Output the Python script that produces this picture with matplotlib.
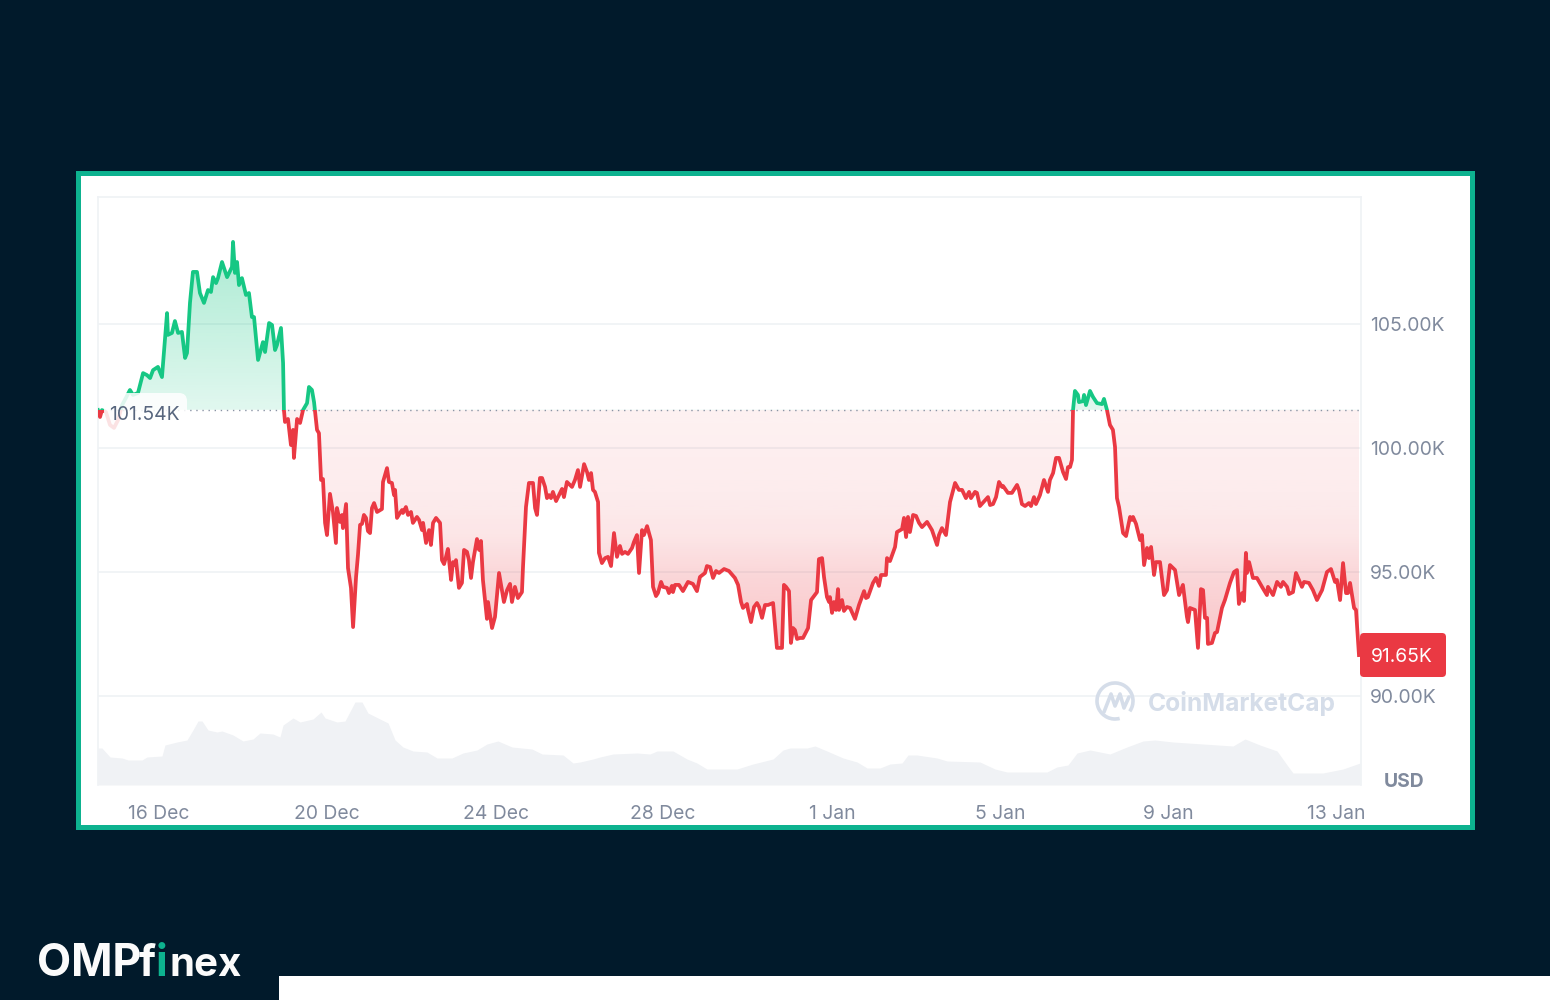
import numpy as np
import matplotlib
matplotlib.use("Agg")
import matplotlib.pyplot as plt
from matplotlib.patches import Rectangle, FancyBboxPatch, PathPatch, Arc

plt.rcParams['font.family'] = ['Inter', 'DejaVu Sans']

# hours since 16 Dec 00:00
hours = [-34.9,-33.7,-32.6,-30.3,-28.0,-25.7,-23.4,-21.1,-18.9,-16.6,-14.9,-12.0,-9.1,-6.9,-5.1,-3.4,-0.6,1.7,4.6,5.1,
7.4,9.1,10.9,13.1,14.9,16.0,17.7,19.4,21.7,23.4,25.7,28.0,29.7,30.9,32.6,33.7,36.0,38.9,41.7,42.3,
43.4,44.6,45.7,47.4,49.7,51.4,53.1,54.3,56.6,59.4,60.6,62.9,64.6,66.3,67.4,69.7,70.9,71.4,72.0,73.7,
75.4,76.6,77.1,78.9,80.6,82.3,84.6,85.7,87.4,88.6,90.3,91.4,92.6,93.7,94.9,96.0,97.7,99.4,101.1,101.7,
103.4,104.6,105.1,106.9,108.0,109.7,110.9,112.6,113.7,114.9,116.0,117.1,118.3,119.4,120.6,121.7,122.9,124.6,127.4,128.0,
130.3,131.4,133.1,134.3,134.9,136.0,137.7,138.9,139.4,141.1,142.3,144.0,145.1,147.4,148.6,150.3,150.9,152.6,154.3,155.4,
156.6,158.3,160.6,161.7,162.9,164.0,165.1,166.9,168.0,169.1,169.7,171.4,173.1,174.3,176.0,177.1,178.3,179.4,181.7,182.9,
184.0,185.1,187.4,188.0,190.3,192.0,194.3,196.6,197.1,198.9,200.6,201.7,203.4,205.1,207.4,208.0,209.7,211.4,213.7,214.9,
216.0,217.7,218.9,220.6,221.7,222.9,224.0,225.1,226.9,228.0,230.3,231.4,233.1,236.0,237.7,239.4,240.6,242.9,244.6,245.7,
246.9,248.0,249.1,250.9,251.4,253.1,254.9,256.6,258.3,260.0,261.7,263.4,264.6,266.3,268.0,270.3,271.4,273.1,274.3,276.0,
277.1,278.9,281.1,282.3,284.0,285.1,286.9,288.0,290.3,291.4,293.1,293.7,294.9,297.1,299.4,302.3,305.1,307.4,309.1,312.0,
313.1,314.9,316.6,318.3,320.0,322.9,325.7,329.1,330.9,332.6,333.7,336.0,336.6,338.3,340.0,341.7,342.9,344.6,346.3,348.0,
350.9,353.1,356.0,357.1,358.3,360.0,361.1,362.3,363.4,364.6,366.3,368.0,370.9,372.6,376.0,377.1,378.9,380.0,381.7,382.9,
383.4,384.6,385.7,386.9,388.0,388.6,390.3,391.4,393.1,394.9,397.7,400.0,402.9,404.0,405.1,408.0,409.7,411.4,412.6,415.4,
416.0,417.7,420.6,421.7,424.6,425.7,426.9,428.0,429.1,430.9,432.6,434.3,436.0,438.9,441.7,444.6,445.7,447.4,449.7,452.0,
454.9,457.1,458.9,461.1,462.9,464.0,466.3,467.4,469.1,473.7,474.9,476.6,478.3,480.0,481.7,482.3,485.1,487.4,490.3,491.4,
493.1,494.9,497.1,498.3,500.0,501.1,503.4,505.7,508.0,509.1,510.9,512.6,514.3,516.6,518.3,519.4,520.6,521.7,522.3,523.4,
525.1,525.7,528.0,528.6,529.7,532.0,533.7,536.0,538.9,540.0,541.7,543.4,545.1,546.3,547.4,548.6,550.9,552.6,554.9,556.0,
556.6,558.3,560.6,561.7,562.9,564.6,565.7,566.9,568.6,569.7,572.0,574.3,576.0,577.7,580.6,582.9,585.1,587.4,588.0,589.1,
592.0,593.7,595.4,596.6,597.7,598.9,599.4,601.7,603.4,604.6,607.4,609.1,612.0,614.3,616.0,617.1,618.9,620.0,621.1,621.7,
622.9,625.1,627.4,630.3,633.1,633.7,636.6,638.9,641.1,642.3,644.6,645.7,648.0,649.7,653.1,654.3,657.1,659.4,661.7,664.6,
667.4,669.7,672.0,673.1,674.9,676.6,678.3,679.4,680.6,682.9,684.0,685.7]

# BTC price, thousands of USD
price = [101.53,101.25,101.53,101.45,100.93,100.81,101.13,101.73,102.02,102.34,102.14,102.22,103.02,102.94,102.82,103.14,103.27,102.86,105.44,104.56,
104.64,105.12,104.64,104.68,103.63,103.83,105.85,107.10,107.10,106.25,105.85,106.37,106.29,106.89,106.65,106.85,107.50,106.89,107.30,108.31,
107.06,107.50,106.57,106.85,106.17,106.25,105.28,105.28,103.55,104.27,103.87,105.04,104.96,103.95,104.15,104.84,103.43,101.53,101.05,101.17,
100.12,100.73,99.60,101.17,101.01,101.53,101.81,102.46,102.34,101.85,100.73,100.60,98.71,98.75,96.98,96.49,98.15,97.42,96.17,97.58,
97.02,97.30,96.77,97.74,95.16,94.36,92.78,94.80,95.69,96.90,96.94,97.30,97.18,96.65,96.57,97.58,97.78,97.42,97.54,98.63,
99.19,98.63,98.59,98.10,98.31,97.18,97.38,97.50,97.38,97.62,97.30,97.42,96.98,97.22,97.10,96.69,96.98,96.17,96.69,96.09,
96.98,97.18,96.98,95.48,95.32,95.61,95.93,94.68,95.40,95.28,95.48,94.36,94.56,95.89,95.81,95.48,94.76,95.40,96.33,95.89,
96.25,94.68,93.11,93.79,92.74,93.19,94.96,93.99,93.79,94.27,94.52,93.79,94.40,93.95,94.19,95.20,97.62,98.59,98.59,97.58,
97.30,98.79,98.79,98.43,97.98,98.10,97.98,98.23,97.86,98.02,98.35,98.02,98.63,98.43,98.71,99.11,98.43,99.35,99.03,98.71,
98.99,98.31,98.23,97.82,95.77,95.36,95.56,95.61,95.24,96.57,95.61,96.05,95.73,95.81,95.73,95.97,96.21,96.49,94.96,96.69,
96.49,96.85,96.29,94.40,94.03,94.15,94.60,94.40,94.36,94.15,94.44,94.19,94.48,94.48,94.23,94.60,94.52,94.23,94.80,94.96,
95.24,95.20,94.76,95.04,94.96,95.12,95.04,94.76,94.48,93.79,93.55,93.71,93.47,92.98,93.59,93.75,93.59,93.15,93.67,93.67,
93.75,91.94,91.94,94.48,94.40,94.23,92.14,92.74,92.66,92.30,92.34,92.34,92.74,93.87,94.19,95.52,95.56,94.80,93.99,93.79,
93.99,93.35,93.79,93.47,94.31,93.47,93.87,93.43,93.59,93.55,93.11,93.67,94.23,93.95,93.99,94.56,94.76,94.44,94.88,94.88,
95.56,95.44,96.01,96.61,96.73,97.18,96.41,97.22,96.61,97.30,97.26,96.98,96.81,97.02,96.69,96.09,96.49,96.77,96.49,97.82,
98.59,98.31,98.31,97.98,98.23,97.98,98.23,98.19,97.66,98.02,97.70,97.74,98.02,98.63,98.43,98.47,98.19,98.19,98.51,98.31,
97.74,97.66,97.78,97.66,98.02,97.74,98.10,98.71,98.23,98.71,98.99,99.60,99.60,99.03,98.75,99.23,99.23,99.52,101.53,102.30,
102.14,101.85,101.89,102.14,101.73,102.30,102.06,101.81,101.77,101.98,101.53,100.93,100.73,100.04,97.98,97.62,96.57,96.45,97.22,97.10,
97.22,96.94,96.29,96.49,95.28,95.97,95.56,96.01,94.88,95.40,95.40,94.07,94.27,95.28,95.08,94.07,94.48,93.19,92.98,93.55,
93.47,91.94,94.31,94.27,93.15,93.15,92.10,92.14,92.54,92.58,93.55,93.87,94.56,95.00,95.08,93.71,94.15,93.83,95.77,94.96,
95.40,94.76,94.76,94.40,94.07,94.40,94.07,94.60,94.40,94.60,94.40,94.11,94.19,94.96,94.40,94.60,94.56,94.27,93.87,94.27,
95.00,95.12,94.60,94.68,93.87,95.36,94.15,94.15,94.56,93.55,93.47,91.65]

vol_hours = [-34.9,-32.6,-28.0,-21.1,-17.7,-9.7,-6.9,1.7,3.4,10.3,16.0,19.4,22.3,24.6,28.0,33.1,36.0,42.3,48.0,53.7,
57.7,65.1,69.1,70.9,76.6,80.6,88.0,92.6,94.9,101.7,106.3,112.0,116.0,119.4,127.4,130.9,134.9,139.4,145.1,153.1,
158.9,167.4,173.7,181.7,187.4,193.7,201.7,213.1,218.9,230.9,236.6,240.6,248.0,252.0,259.4,273.1,280.6,284.6,293.7,301.7,
307.4,313.1,330.3,339.4,350.9,356.6,360.6,370.3,374.9,381.7,390.9,398.9,404.6,412.0,417.7,424.6,428.0,433.1,444.6,450.3,
469.1,477.7,484.6,507.4,513.1,519.4,524.6,532.0,543.4,553.1,562.3,569.1,579.4,596.6,613.7,620.6,629.1,638.9,644.6,648.0,
665.1,676.6,686.3]
volume = [37,37,28,27,25,25,28,29,40,43,45,55,64,64,55,53,54,50,44,46,
52,51,48,60,67,63,66,73,67,63,64,83,83,72,65,62,45,38,34,33,
27,27,32,35,41,44,38,36,31,30,22,23,26,28,31,32,31,34,34,26,
22,16,16,21,26,35,37,37,39,34,27,23,17,17,21,22,30,30,27,24,
23,16,13,13,18,20,32,35,31,38,44,45,43,41,39,46,40,34,20,12,
12,16,22]

base_price = 101.54
last_price = 91.65
y_ticks = [90, 95, 100, 105]
y_labels = ['90.00K', '95.00K', '100.00K', '105.00K']
x_ticks = [0, 96, 192.3, 288, 384.6, 480.6, 576.6, 672.6]
x_labels = ['16 Dec', '20 Dec', '24 Dec', '28 Dec', '1 Jan', '5 Jan', '9 Jan', '13 Jan']

NAVY = '#011a2b'
TEAL = '#0db28f'
GREEN = '#16c784'
RED = '#ea3943'
GRID = '#eff2f5'
MUTED = '#808a9d'
FS = 13.9

fig = plt.figure(figsize=(15.5, 10), dpi=100, facecolor=NAVY)

# page furniture in pixel coordinates
bg = fig.add_axes([0, 0, 1, 1], zorder=0)
bg.set_xlim(0, 1550); bg.set_ylim(1000, 0); bg.axis('off')
bg.add_patch(Rectangle((77.8, 172.8), 1394, 654, facecolor='white', edgecolor=TEAL, lw=3.6))
bg.add_patch(Rectangle((279, 976), 1271, 24, facecolor='white', edgecolor='none'))
logo_font = dict(family=['Inter', 'DejaVu Sans'], fontweight='bold', va='baseline', ha='left')
bg.text(37, 976, 'OMP', color='#fbfbfb', fontsize=32, **logo_font)
bg.text(139, 976, 'f', color='#fbfbfb', fontsize=31, **logo_font)
bg.text(156, 976, 'i', color=TEAL, fontsize=31, **logo_font)
bg.text(169, 976, 'nex', color='#fbfbfb', fontsize=29, **logo_font)

# volume layer
left, right, top, bottom = 98, 1361, 197, 785
rect = [left / 1550, 1 - bottom / 1000, (right - left) / 1550, (bottom - top) / 1000]
xlim = ((left - 159) / 1.75, (right - 159) / 1.75)
ylim = (100 - (bottom - 448) / 24.8, 100 + (448 - top) / 24.8)

vax = fig.add_axes(rect, zorder=1)
vax.patch.set_visible(False)
vax.set_xlim(*xlim); vax.set_ylim(0, bottom - top); vax.axis('off')
vax.fill_between(vol_hours, volume, 0, color='#f0f2f5', lw=0)

# price layer
ax = fig.add_axes(rect, zorder=2)
ax.patch.set_visible(False)
ax.set_xlim(*xlim); ax.set_ylim(*ylim)
for s in ('left', 'right', 'top'):
    ax.spines[s].set_color(GRID); ax.spines[s].set_linewidth(1.2)
ax.spines['bottom'].set_visible(False)
ax.set_axisbelow(True)
ax.yaxis.tick_right()
ax.set_yticks(y_ticks, y_labels)
ax.set_xticks(x_ticks, x_labels)
ax.grid(axis='y', color=GRID, lw=1.2)
ax.tick_params(axis='y', length=0, pad=6.5, labelsize=FS, labelcolor=MUTED)
ax.tick_params(axis='x', length=0, pad=14.5, labelsize=FS, labelcolor=MUTED)

rows = np.linspace(ylim[0], ylim[1], 800)
rgba = np.zeros((800, 1, 4))
g = np.array(matplotlib.colors.to_rgb(GREEN))
r = np.array(matplotlib.colors.to_rgb(RED))
up = rows >= base_price
rgba[up, 0, :3] = g
rgba[~up, 0, :3] = r
rgba[up, 0, 3] = np.interp(rows[up], [base_price, 108.3], [0.13, 0.36])
rgba[~up, 0, 3] = np.interp(rows[~up], [91.9, 95, 96.5, 98, base_price], [0.30, 0.20, 0.13, 0.10, 0.07])
im = ax.imshow(rgba, origin='lower', aspect='auto', extent=[xlim[0], xlim[1], ylim[0], ylim[1]], zorder=2)
poly = ax.fill_between(hours, price, base_price, facecolor='none', edgecolor='none')
im.set_clip_path(PathPatch(poly.get_paths()[0], transform=ax.transData))
ax.set_xlim(*xlim); ax.set_ylim(*ylim)

ax.axhline(base_price, color='#8a94a5', lw=1.0, ls=(0, (1, 3.4)), zorder=3)

line_up, = ax.plot(hours, price, color=GREEN, lw=2.7, solid_joinstyle='round', zorder=4)
line_dn, = ax.plot(hours, price, color=RED, lw=2.7, solid_joinstyle='round', zorder=4)
line_up.set_clip_path(Rectangle((xlim[0], base_price), xlim[1] - xlim[0], ylim[1] - base_price, transform=ax.transData))
line_dn.set_clip_path(Rectangle((xlim[0], ylim[0]), xlim[1] - xlim[0], base_price - ylim[0], transform=ax.transData))

# overlays in pixel coordinates
ov = fig.add_axes([0, 0, 1, 1], zorder=3)
ov.patch.set_visible(False)
ov.set_xlim(0, 1550); ov.set_ylim(1000, 0); ov.axis('off')
ov.add_patch(FancyBboxPatch((112, 401), 67, 24, boxstyle='round,pad=8,rounding_size=8',
                            facecolor='white', edgecolor='none', alpha=0.86))
ov.text(144, 415, f'{base_price:.2f}K', color='#58667e', fontsize=FS, ha='center', va='center')
ov.add_patch(FancyBboxPatch((1364, 637), 78, 36, boxstyle='round,pad=4,rounding_size=4',
                            facecolor=RED, edgecolor='none'))
ov.text(1401.5, 657, f'{last_price:.2f}K', color='white', fontsize=FS, ha='center', va='center')
ov.text(1404, 782, 'USD', color=MUTED, fontsize=FS, fontweight='bold', ha='center', va='center')

WM = '#d5dde9'
ov.text(1148, 704, 'CoinMarketCap', color=WM, fontsize=17.7, fontweight='bold', ha='left', va='center')
ov.add_patch(Arc((1115, 701), 36, 36, theta1=75, theta2=395, color=WM, lw=2.6))
ov.plot([1104, 1111, 1115, 1120, 1124, 1129], [712, 694, 706, 694, 708, 697], color=WM, lw=2.6,
        solid_joinstyle='round', solid_capstyle='round')

fig.savefig('out.png', dpi=100, facecolor=NAVY)
